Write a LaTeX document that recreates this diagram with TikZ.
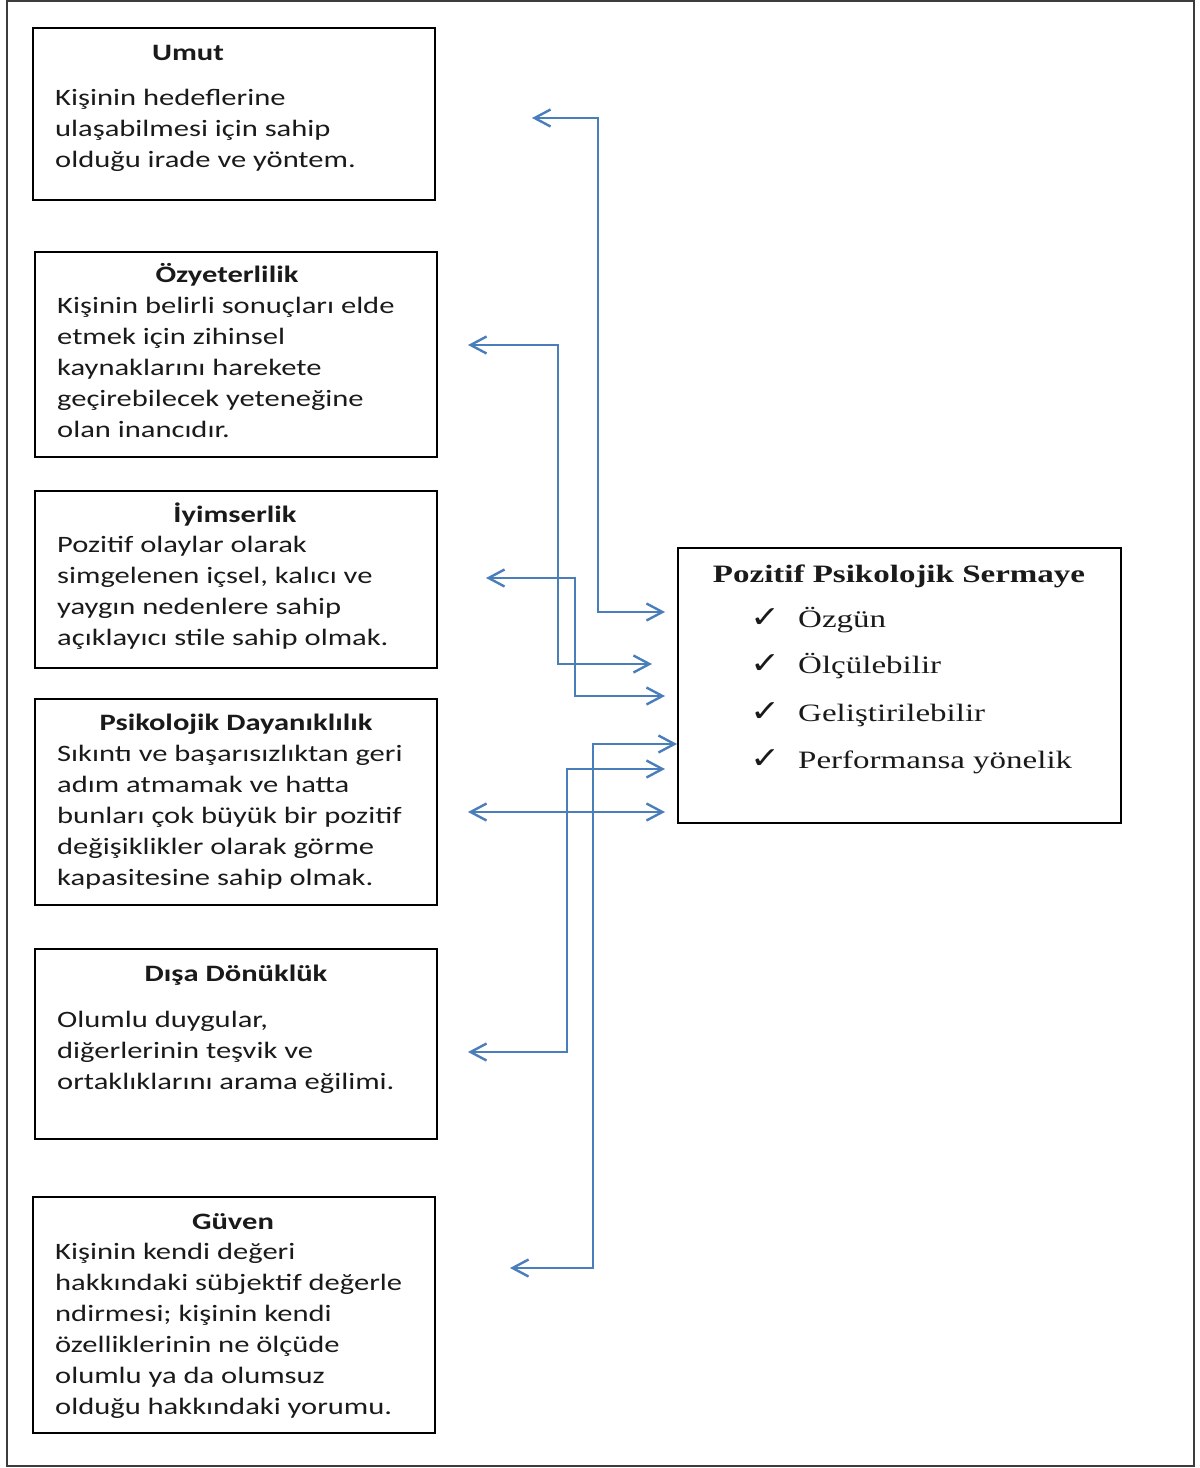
\documentclass[tikz,border=0pt]{standalone}
\usepackage{fontspec}
\setmainfont{Carlito}[FakeStretch=1.30]
\newfontfamily\serifR{Liberation Serif}[FakeStretch=1.32]
\newfontfamily\chkfont{DejaVu Sans}[FakeStretch=1.2]
\usetikzlibrary{arrows.meta}
\definecolor{conncol}{HTML}{4A7EBB}
\definecolor{framecol}{HTML}{3C3C3C}
\definecolor{txtcol}{HTML}{1A1A1A}
\begin{document}
\begin{tikzpicture}[x=1pt,y=-1pt,
  box/.style={draw=black,line width=1.8pt,inner sep=0pt,anchor=north west},
  ttl/.style={font={\fontsize{23.5}{31}\selectfont\bfseries},text=txtcol,anchor=base,inner sep=0pt},
  body/.style={font={\fontsize{23.5}{31}\selectfont},text=txtcol,anchor=north west,inner sep=0pt,align=left},
  pttl/.style={font={\serifR\fontsize{25}{30}\selectfont\bfseries},text=txtcol,anchor=base,inner sep=0pt},
  item/.style={font={\serifR\fontsize{25}{30}\selectfont},text=txtcol,anchor=base west,inner sep=0pt},
  conn/.style={draw=conncol,line width=2.4pt,{Straight Barb[length=16pt,width=17pt]}-{Straight Barb[length=16pt,width=17pt]}},
]
\useasboundingbox (0,0) rectangle (1200,1468);
\draw[framecol,line width=2pt] (7,1) rectangle (1194,1466);

% left boxes
\node[box,minimum width=402pt,minimum height=172pt] (umut) at (32,27) {};
\node[ttl] (umutT) at (188,60) {Umut};
\node[body] (umutB) at (55,83.3) {\strut Kişinin hedeflerine\\ulaşabilmesi için sahip\\olduğu irade ve yöntem.};

\node[box,minimum width=402pt,minimum height=205pt] (ozy) at (34,251) {};
\node[ttl] (ozyT) at (227,282) {Özyeterlilik};
\node[body] (ozyB) at (57,291.3) {\strut Kişinin belirli sonuçları elde\\etmek için zihinsel\\kaynaklarını harekete\\geçirebilecek yeteneğine\\olan inancıdır.};

\node[box,minimum width=402pt,minimum height=177pt] (iyi) at (34,490) {};
\node[ttl] (iyiT) at (235,522) {İyimserlik};
\node[body] (iyiB) at (57,530.3) {\strut Pozitif olaylar olarak\\simgelenen içsel, kalıcı ve\\yaygın nedenlere sahip\\açıklayıcı stile sahip olmak.};

\node[box,minimum width=402pt,minimum height=206pt] (day) at (34,698) {};
\node[ttl] (dayT) at (236,730) {Psikolojik Dayanıklılık};
\node[body] (dayB) at (57,739.3) {\strut Sıkıntı ve başarısızlıktan geri\\adım atmamak ve hatta\\bunları çok büyük bir pozitif\\değişiklikler olarak görme\\kapasitesine sahip olmak.};

\node[box,minimum width=402pt,minimum height=190pt] (dis) at (34,948) {};
\node[ttl] (disT) at (236,981) {Dışa Dönüklük};
\node[body] (disB) at (57,1005.3) {\strut Olumlu duygular,\\diğerlerinin teşvik ve\\ortaklıklarını arama eğilimi.};

\node[box,minimum width=402pt,minimum height=236pt] (guv) at (32,1196) {};
\node[ttl] (guvT) at (233,1229) {Güven};
\node[body] (guvB) at (55,1237.3) {\strut Kişinin kendi değeri\\hakkındaki sübjektif değerle\\ndirmesi; kişinin kendi\\özelliklerinin ne ölçüde\\olumlu ya da olumsuz\\olduğu hakkındaki yorumu.};

% right box
\node[box,minimum width=443pt,minimum height=275pt] (psy) at (677,547) {};
\node[pttl] (psyT) at (899,582) {Pozitif Psikolojik Sermaye};
\node[item] (i1) at (750,627) {\makebox[48pt][l]{\chkfont\fontsize{30}{30}\selectfont ✓}Özgün};
\node[item] (i2) at (750,673) {\makebox[48pt][l]{\chkfont\fontsize{30}{30}\selectfont ✓}Ölçülebilir};
\node[item] (i3) at (750,721) {\makebox[48pt][l]{\chkfont\fontsize{30}{30}\selectfont ✓}Geliştirilebilir};
\node[item] (i4) at (750,768) {\makebox[48pt][l]{\chkfont\fontsize{30}{30}\selectfont ✓}Performansa yönelik};

% connectors
\coordinate (aL) at (532,118);  \coordinate (aR) at (665,612);  \coordinate (aV) at (598,0);
\coordinate (bL) at (468,345);  \coordinate (bR) at (652,664);  \coordinate (bV) at (558,0);
\coordinate (cL) at (486,578);  \coordinate (cR) at (665,696);  \coordinate (cV) at (575,0);
\coordinate (dL) at (468,812);  \coordinate (dR) at (665,812);
\coordinate (eL) at (468,1052); \coordinate (eR) at (665,769);  \coordinate (eV) at (567,0);
\coordinate (fL) at (510,1268); \coordinate (fR) at (677,744);  \coordinate (fV) at (593,0);

\draw[conn] (aL) -- (aL -| aV) -- (aR -| aV) -- (aR);
\draw[conn] (bL) -- (bL -| bV) -- (bR -| bV) -- (bR);
\draw[conn] (cL) -- (cL -| cV) -- (cR -| cV) -- (cR);
\draw[conn] (dL) -- (dR);
\draw[conn] (eL) -- (eL -| eV) -- (eR -| eV) -- (eR);
\draw[conn] (fL) -- (fL -| fV) -- (fR -| fV) -- (fR);
\end{tikzpicture}
\end{document}
